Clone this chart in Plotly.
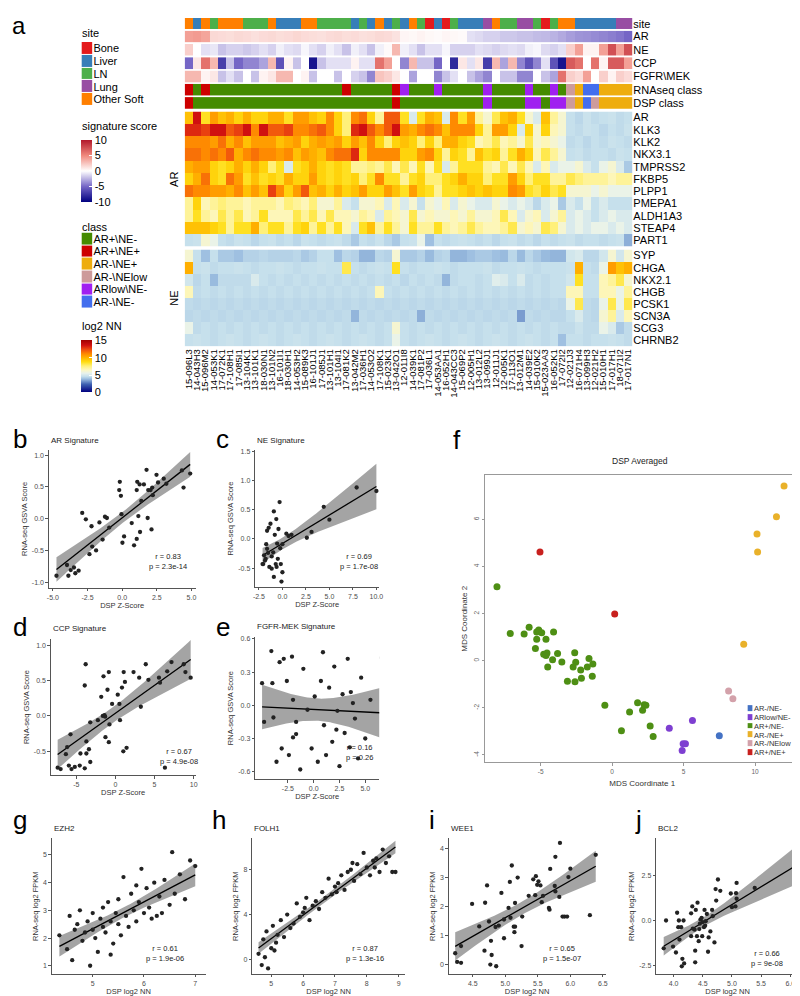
import numpy as np
import plotly.graph_objects as go

W, H = 800, 996
FONT = "Arial, Liberation Sans, sans-serif"

# ---------------- panel a : data ----------------
samples = ["15-096L3", "14-043H3", "15-096M2", "14-053K1", "17-072K1", "17-108H1", "17-085I1", "13-104K1", "13-101K1", "18-030N1",
           "13-101N2", "16-101I1", "18-030H1", "14-053H2", "15-089K3", "16-101J1", "17-085J1", "13-101H1", "13-104I1", "17-081K2",
           "13-042M2", "17-036H1", "14-053O2", "17-108K1", "15-023K1", "13-042O1", "12-011I8", "14-039K1", "17-081P2", "17-036L1",
           "14-053AA1", "16-052H1", "14-043CC3", "15-069P2", "12-005H1", "13-012L2", "13-099J1", "12-011J1", "12-005K1", "17-113O1",
           "13-012M1", "14-039E2", "15-010K2", "15-023AA3", "16-052K1", "17-072I2", "12-021J3", "16-071H4", "13-099H3", "12-021H2",
           "15-010H1", "17-017H1", "18-071I2", "17-017N1"]

site_names = ["Bone", "Liver", "LN", "Lung", "Other Soft"]
site_colors = ["#E41A1C", "#377EB8", "#4DAF4A", "#984EA3", "#FF7F00"]
site_codes = [4, 1, 4, 2, 4, 4, 4, 2, 2, 2,
              4, 1, 1, 1, 4, 4, 2, 2, 2, 2,
              1, 2, 1, 4, 1, 2, 1, 4, 2, 0,
              1, 0, 2, 1, 1, 1, 3, 4, 2, 2,
              3, 3, 2, 0, 2, 4, 4, 1, 1, 1,
              1, 1, 3, 3]

class_names = ["AR+\\NE-", "AR+\\NE+", "AR-\\NE+", "AR-\\NElow", "ARlow\\NE-", "AR-\\NE-"]
class_colors = ["#458B00", "#CD0000", "#EEAD0E", "#CD9B9B", "#A020F0", "#436EEE"]
rnaseq_class = [1, 0, 1, 0, 0, 0, 0, 0, 0, 0,
                0, 0, 0, 0, 0, 0, 0, 0, 0, 1,
                0, 0, 0, 0, 0, 1, 4, 0, 0, 0,
                4, 0, 0, 0, 0, 0, 4, 0, 0, 0,
                0, 4, 0, 0, 4, 0, 3, 2, 5, 5,
                2, 2, 2, 2]
dsp_class = [1, 0, 0, 0, 0, 0, 0, 0, 0, 0,
             0, 0, 0, 0, 0, 0, 0, 0, 0, 0,
             0, 0, 0, 0, 0, 1, 0, 0, 0, 0,
             0, 0, 0, 0, 0, 0, 4, 0, 0, 0,
             0, 4, 4, 0, 4, 4, 3, 2, 5, 3,
             2, 2, 2, 2]

sig_ar = [4.0, 4.2, 3.8, 1.6, 1.5, 1.4, 1.6, 1.5, 1.3, 1.5,
          1.6, 1.4, 1.5, 1.7, 1.5, 1.4, 1.3, 1.5, 1.6, 1.4,
          1.5, 1.3, 1.4, 1.6, 1.5, 1.2, 0.4, 0.3, 0.5, 0.3,
          0.2, 0.4, 0.3, 0.2, -1.0, -1.2, -1.5, -1.5, -1.8, -1.8,
          -2.0, -2.0, -2.2, -2.3, -2.5, -2.8, -3.2, -3.5, -3.6, -3.8,
          -4.0, -4.2, -4.5, -5.0]
sig_ne = [2.0, 0.0, -1.0, -0.8, -2.0, -1.5, -1.5, -1.8, -1.5, -1.0,
          -1.5, -0.5, -1.0, -1.2, -0.3, -1.0, -1.5, -0.5, -1.0, -2.0,
          -0.5, -1.0, -2.0, -0.5, 0.2, 3.0, -0.5, -1.0, -2.0, -1.0,
          -1.0, -0.3, -1.5, -1.5, -1.5, -1.0, -1.2, -1.5, -1.2, -1.0,
          -1.2, -0.5, -0.3, -1.2, -1.5, -1.0, 2.0, 4.0, 0.5, 0.5,
          4.0, 7.5, 4.0, 7.5]
sig_ccp = [-5, 1, 6, 3, -7, -2, -5, -4, -4, -3,
           3, -6, 0.5, -2, 0, -9, -2, -1, -1, -1,
           0.5, -1, -1, 6, 4, 0, -4, 3, -2, -2,
           -5, 0, -8, 1, -1, 1, -7, 3, -3, 3,
           -4, -6, -4, -1, -6, -9, 7, 6, 0, 6,
           0.5, 7, 7, 4]
sig_fgfr = [3, 3, 0.5, 1, -2, -1, -2, 0, -2, 0.5,
            1, 3, 3, 0, 0.5, -2, 0, 0, -2, 0,
            -1.5, -2, -4, 2.5, 2, 1, 0, -3, 0, 0,
            -4, -2, -1, 0, -2, -3, -4, 0, -2, -2,
            -4, -4, 0, -2, -3, 6, 2, 1.5, 4, 0,
            2, 0.5, 2, 1.5]
sig_rows = ["AR", "NE", "CCP", "FGFR\\MEK"]
sig_ticks = [10, 5, 0, -5, -10]

ar_genes = ["AR", "KLK3", "KLK2", "NKX3.1", "TMPRSS2", "FKBP5", "PLPP1", "PMEPA1", "ALDH1A3", "STEAP4", "PART1"]
ar_block = [
    [9.5, 13.5, 8.5, 10.5, 9.5, 10, 9, 10, 9, 9, 10, 10, 8.5, 10.5, 10.5, 9.5, 9, 11, 9, 7.5,
     11, 11.5, 9, 7, 12, 12, 8.5, 5, 8.5, 10, 9.5, 5, 11, 8.5, 10.5, 7, 6, 8, 9.5, 10,
     8.5, 6, 5, 9.5, 7, 6, 4.5, 4.3, 4.6, 4.4, 4.5, 4.6, 4.4, 4.5],
    [13, 13, 12.5, 13.5, 13.5, 12, 12.5, 13.5, 11, 13.5, 12, 12, 12.5, 11, 11, 11.5, 12, 11, 9, 7.5,
     13, 13.5, 12, 11, 12, 13.5, 10.5, 10, 11, 11.5, 11, 9.5, 11, 11, 11, 9, 7, 10.5, 10.5, 9,
     5, 9, 6, 9, 6.5, 6, 4.5, 4.4, 4.6, 4.5, 4.3, 4.5, 4.4, 4.6],
    [11, 11, 11, 10.5, 11.5, 10, 11, 9.5, 10.5, 10.5, 10.5, 9.5, 10, 10.5, 9, 10, 10.5, 10, 10.5, 9,
     10.5, 9.5, 11, 9, 7.5, 9, 9.5, 9, 7.5, 9, 7.5, 10, 10, 9, 8.5, 6.5, 7, 8, 6.5, 7,
     6, 8, 6, 6.5, 6, 5.5, 4.4, 4.5, 4.3, 4.5, 4.4, 4.6, 4.5, 4.4],
    [11.5, 11.5, 11, 11.5, 11, 12, 10, 11, 11.5, 11, 11, 10.5, 11, 9.5, 10.5, 10, 9.5, 11, 11.5, 11.5,
     13, 9, 11, 11, 11, 11, 9, 9, 10.5, 11, 9, 7, 9, 8.5, 7, 9.5, 8.5, 9, 7, 8.5,
     10, 9, 6.5, 8, 7, 6, 4.5, 4.6, 4.4, 4.5, 4.5, 4.4, 4.6, 4.5],
    [10, 10.5, 10.5, 9, 8.5, 9, 10, 9, 10, 9, 7.5, 8.5, 5, 8.5, 9, 10, 9, 8.5, 9, 8.5,
     7, 7, 7.5, 7, 8, 6.5, 8, 6.5, 8.5, 6.5, 8.5, 5, 7, 8.5, 8.5, 8.5, 7, 6.5, 8, 6.5,
     8, 6.5, 5, 6.5, 5, 5.5, 5.5, 6, 5, 4.5, 5.5, 6, 5, 4],
    [9, 10, 11.5, 9, 8.5, 11.5, 10.5, 8.5, 9.5, 8.5, 9, 8.5, 10, 9, 9, 10.5, 9, 8.5, 9, 8.5,
     9, 7.5, 8.5, 11, 8.5, 8.5, 7, 8.5, 9, 7.5, 7.5, 8.5, 9, 10, 9, 9, 7.5, 8.5, 8.5, 10.5,
     9, 7.5, 8.5, 8.5, 7, 7, 8, 7.5, 7, 7, 7, 6.5, 7, 7],
    [11.5, 11, 11, 10.5, 10.5, 10, 11, 9.5, 10.5, 9.5, 12.5, 11, 9, 10.5, 12, 9.5, 10, 9, 10, 9,
     9.5, 10.5, 9, 9, 10.5, 9.5, 8.5, 10.5, 9, 8.5, 7, 8.5, 8.5, 9, 9.5, 9, 9.5, 9, 9, 11,
     10.5, 8.5, 8, 9, 8, 8.5, 6, 6, 6, 5.5, 6, 5.5, 5.5, 5.5],
    [7, 9, 6.5, 7, 7.5, 7, 7, 6.5, 7, 7, 7, 6.5, 7.5, 7, 6.5, 7.5, 6, 6, 7, 5,
     4.5, 6, 6, 6.5, 5, 6.5, 5, 6, 4.5, 6, 5.5, 6.5, 5, 6, 5.5, 5, 5, 6, 5.5, 5,
     5.5, 5, 4.3, 5, 5.5, 4, 5, 4.5, 5.5, 4.5, 5, 4.5, 4.5, 4.5],
    [7, 8.5, 7, 6.5, 8, 7, 8, 6.5, 7, 8.5, 6.5, 6.5, 6.5, 8, 7, 8, 6.5, 8, 6.5, 6.5,
     6, 7, 6.5, 5, 7, 6.5, 6, 8, 6, 6.5, 6, 6, 6.5, 6, 7, 6, 6, 6.5, 8, 6.5,
     5, 6, 6.5, 5, 6, 7, 5, 5.5, 5, 4.5, 5, 5.5, 5, 5],
    [9.5, 9.5, 9.5, 9, 8.5, 7, 8.5, 8.5, 10, 7.5, 8.5, 8.5, 7, 8.5, 9, 7, 8.5, 7, 8.5, 6.5,
     5, 8.5, 9.5, 7, 8.5, 7, 6, 8.5, 7, 7, 8.5, 7, 6.5, 7, 8, 7, 6.5, 6.5, 7, 8,
     6, 6.5, 6, 8, 7.5, 6, 5, 5.5, 5, 5.5, 5.5, 5, 5.5, 5],
    [4.5, 4.6, 6, 5.5, 4.5, 4.4, 4.6, 4.5, 4.3, 4.5, 4.6, 4.4, 4.5, 4.3, 4.6, 4.5, 4.4, 4.5, 4.6, 4.4,
     4, 4.5, 4.4, 4.6, 4.3, 4, 4.5, 4.6, 5.5, 3.8, 4.5, 4.4, 4.5, 4.6, 4.5, 4.4, 4.5, 4.3, 4.5, 4.6,
     4.4, 4.5, 4.3, 4.5, 4.4, 4.5, 4.6, 4.4, 4.5, 4.5, 4.4, 4.5, 4.6, 3.5],
]
ne_genes = ["SYP", "CHGA", "NKX2.1", "CHGB", "PCSK1", "SCN3A", "SCG3", "CHRNB2"]
ne_block = [
    [6, 4.5, 3.8, 4.5, 4, 4, 3.8, 4.2, 4.2, 4.3, 4.2, 4.2, 4.2, 4.3, 4, 4.2, 4.5, 4.5, 3.8, 4.3,
     4.2, 3.6, 3.6, 4.3, 4.2, 6, 4, 4, 4.2, 3.7, 4.2, 4.3, 3.6, 3.6, 3.8, 4, 4, 3.8, 3.7, 4.3,
     3.7, 4.3, 4, 3.7, 3.6, 3.6, 4.8, 5, 4.3, 4.3, 4.8, 6, 4.8, 6],
    [10, 4.5, 4.6, 4.4, 4.5, 4.5, 4.6, 4.5, 4.4, 4.5, 4.5, 4.6, 4.5, 4.4, 4.5, 4.5, 4.6, 4.5, 4.5, 8,
     4.5, 4.4, 4.5, 4.6, 4.5, 8.5, 4.5, 4.4, 4.5, 4.5, 4.6, 4.5, 4.4, 4.5, 4.5, 4.5, 4.6, 4.4, 4.5, 4.5,
     4.6, 4.5, 4.4, 4.5, 4.5, 4.5, 4.6, 10, 4.5, 4.4, 5.5, 10.5, 9.5, 10],
    [4.8, 4.3, 4.5, 3.7, 4.4, 4.4, 4.4, 4.4, 5, 4.5, 4.4, 4.5, 4.4, 4.5, 4.4, 4.5, 4.4, 4.5, 4.4, 4.5,
     4.4, 4.5, 4.4, 4.5, 4.4, 4.5, 4.3, 4.5, 4.4, 4.5, 4.4, 3.6, 4.4, 4.5, 4.5, 4.4, 4.5, 5.2, 5, 4.5,
     5, 4.4, 4.5, 4.4, 4.5, 4.5, 4.8, 8.5, 4.5, 4.5, 6.5, 7, 8, 6],
    [6.5, 4.4, 4.5, 4.4, 4.5, 4.4, 4.5, 4.4, 4.5, 4.4, 4.5, 4.4, 4.5, 4.4, 4.5, 4.4, 4.5, 4.4, 4.5, 4.4,
     4.5, 4.4, 4.5, 6.5, 4.5, 4.4, 4.5, 4.4, 4.5, 4.4, 4.5, 4.4, 4.5, 4.4, 4.5, 4.4, 4.5, 4.4, 4.5, 4.4,
     4.5, 4.4, 4.5, 4.4, 4.5, 4.5, 6.5, 6.5, 4.5, 4.5, 6.5, 6.5, 5.5, 7],
    [4.4, 4.3, 4.4, 4.3, 4.4, 4.3, 4.4, 4.3, 4.4, 4.3, 4.4, 4.3, 4.4, 4.3, 4.4, 4.3, 4.4, 4.3, 4.4, 4.3,
     4.4, 4.3, 4.4, 4.3, 4.4, 4.3, 4.4, 4.3, 4.4, 4.3, 4.4, 4.3, 4.4, 4.3, 4.4, 4.3, 4.4, 4.3, 4.4, 4.3,
     4.4, 4.3, 4.4, 4.3, 4.4, 4.3, 5.5, 8, 4.4, 4.3, 5.5, 8, 5.5, 8],
    [4.3, 4.4, 4.3, 4.4, 4.3, 4.4, 4.3, 4.4, 4.3, 4.4, 4.3, 4.4, 4.3, 4.4, 4.3, 4.4, 4.3, 4.4, 4.3, 4.4,
     3.6, 4.4, 4.3, 4.4, 4.3, 4.4, 4.3, 4.4, 3.5, 4.4, 4.3, 4.4, 4.3, 4.4, 4.3, 4.4, 4.3, 4.4, 4.3, 4.4,
     3.2, 4.4, 4.3, 4.4, 4.3, 4.3, 4.5, 5, 4.4, 4.3, 6, 7, 5, 6.5],
    [5.5, 4.4, 4.5, 4.4, 4.5, 4.4, 4.5, 4.4, 4.5, 4.4, 4.5, 4.4, 4.5, 4.4, 4.5, 4.4, 4.5, 4.4, 4.5, 4.4,
     4.5, 4.4, 4.5, 4.4, 4.5, 6, 4.5, 4.4, 4.5, 4.4, 4.5, 4.4, 4.5, 4.4, 4.5, 4.4, 4.5, 4.4, 4.5, 4.4,
     4.5, 4.4, 4.5, 4.4, 4.5, 4.4, 4.4, 4.6, 4.4, 4.4, 5.5, 5, 4.0, 4.4],
    [4.5, 4.6, 4.5, 4.4, 4.5, 4.6, 4.5, 4.4, 4.5, 4.6, 4.5, 4.4, 4.5, 4.6, 4.5, 4.4, 4.5, 4.6, 4.5, 4.4,
     4.5, 4.6, 4.5, 4.4, 4.5, 5.5, 4.5, 4.4, 4.5, 4.6, 4.5, 4.4, 4.5, 4.6, 4.5, 4.4, 4.5, 4.6, 4.5, 4.4,
     4.5, 4.6, 4.5, 4.4, 4.5, 3.8, 4.5, 4.5, 4.4, 4.5, 4.5, 4.6, 4.5, 4.4],
]
nn_ticks = [15, 10, 5, 0]

# ---------------- panels b-e ----------------
b_x = [-4.74, -3.98, -3.88, -3.71, -3.48, -3.38, -3.14, -2.88, -2.62, -2.36, -2.21, -2.16, -1.88, -1.64, -1.41, -1.24,
       -1.10, -0.93, -0.21, -0.17, -0.09, -0.05, 0.02, 0.14, 0.69, 0.86, 1.05, 1.05, 1.09, 1.17, 1.29, 1.26, 1.38,
       1.57, 1.76, 1.84, 1.88, 2.05, 2.12, 2.17, 2.21, 2.48, 2.59, 3.00, 3.19, 4.31, 4.43, 4.91]
b_y = [-0.90, -0.73, -0.90, -0.81, -0.77, -0.86, -0.82, 0.09, -0.01, -0.56, -0.12, -0.44, -0.50, -0.06, -0.33, 0.03,
       0.01, -0.14, 0.45, 0.58, 0.36, 0.07, -0.38, -0.28, -0.07, -0.42, -0.32, 0.45, 0.58, 0.04, -0.21, 0.54, 0.28,
       0.54, 0.77, 0.01, 0.45, 0.45, -0.17, 0.49, 0.37, 0.69, 0.57, 0.63, 0.55, 0.76, 0.49, 0.71]
c_x = [-2.04, -1.78, -1.72, -1.63, -1.46, -1.27, -1.14, -0.98, -0.91, -0.81, -0.71, -0.65, -0.56, -0.49, -0.42, -0.30,
       -0.23, -0.17, -0.10, 0.00, -0.62, -0.91, -1.14, -1.39, -1.53, -1.63, -1.95, -1.85, -2.11, 0.00, 0.42, 0.65,
       0.97, 2.6, 3.1, 4.4, 5.0, 7.9, 10.0]
c_y = [-0.43, -0.34, -0.09, 0.14, 0.19, 0.26, -0.30, -0.23, 0.47, 0.07, -0.43, 0.34, -0.08, -0.34, 0.17, 0.63,
       -0.16, -0.43, -0.73, -0.57, -0.48, -0.65, -0.51, -0.48, -0.24, -0.17, -0.28, -0.37, -0.43, -0.09, 0.09, 0.05,
       0.07, 0.02, 0.12, 0.55, 0.33, 0.88, 0.82]
d_x = [-7.38, -7.00, -6.33, -6.16, -5.74, -5.95, -5.61, -5.19, -4.56, -4.47, -3.92, -3.80, -3.71, -3.71, -3.92, -3.38,
       -3.21, -3.21, -2.24, -1.81, -1.61, -1.52, -1.39, -1.31, -1.27, -1.01, -0.84, -0.84, -0.76, -0.42, 0.30, 0.51,
       0.59, 0.84, 1.06, 1.22, 1.01, 1.43, 2.32, 3.04, 3.25, 3.88, 4.22, 5.57, 5.70, 6.33, 6.62, 7.17, 8.73, 8.95, 9.62]
d_y = [-0.73, -0.75, -0.54, -0.44, -0.26, -0.70, -0.75, -0.72, -0.70, -0.53, 0.43, 0.73, -0.36, -0.53, -0.74, -0.47,
       -0.65, -0.09, -0.06, 0.27, 0.00, 0.56, 0.01, -0.01, -0.30, 0.37, 0.62, -0.37, -0.12, 0.17, 0.30, 0.17,
       -0.06, 0.40, 0.62, 0.48, -0.50, -0.45, 0.62, 0.54, 0.13, 0.73, 0.51, 0.54, 0.47, -0.73, 0.63, 0.76, 0.73, 0.62, 0.54]
e_x = [-5.0, -4.1, -4.0, -4.8, -3.9, -3.3, -2.9, -2.6, -2.1, -3.1, -3.6, -2.4, -2.0, -2.0, -1.7, -1.7,
       -1.0, -0.6, -0.2, 0.1, 0.4, 0.7, 1.0, 1.2, 1.5, 1.8, 2.0, 2.3, 2.5, 2.8, 3.0, 3.3, 3.5, 3.8,
       4.0, 4.3, 4.6, 5.0, 5.5, 6.6, -1.3, 0.9, 2.2, 3.6]
e_y = [0.20, 0.49, 0.20, -0.15, -0.11, 0.39, 0.42, 0.22, 0.44, -0.39, -0.51, -0.45, 0.05, -0.29, -0.26, -0.15,
       0.33, -0.04, -0.39, 0.08, -0.51, 0.22, -0.18, -0.45, 0.16, -0.33, 0.35, -0.05, -0.55, 0.10, -0.25, 0.42,
       -0.38, 0.02, -0.12, -0.48, 0.25, -0.30, 0.05, 0.43, -0.58, 0.48, -0.22, 0.12]

# ---------------- panel f ----------------
f_classes = ["AR-/NE-", "ARlow/NE-", "AR+/NE-", "AR-/NE+", "AR-/NElow", "AR+/NE+"]
f_colors = ["#4472C4", "#7E3FD1", "#4E8F14", "#E9B12A", "#D3A1AA", "#C8201E"]
f_x = [
    [7.50],
    [5.62, 4.00, 4.97, 5.13, 4.90],
    [-8.06, -7.13, -6.16, -5.81, -5.28, -5.14, -4.93, -5.28, -4.63, -4.10, -5.37, -4.79, -4.56, -4.63, -3.82,
     -4.51, -4.17, -3.52, -2.62, -2.55, -2.73, -2.20, -1.74, -1.62, -1.35, -1.39, -2.15, -2.60, -3.13, -0.51,
     1.78, 1.22, 2.13, 2.24, 2.36, 2.66, 2.87, 0.65],
    [12.03, 11.50, 10.14, 10.18, 9.21],
    [8.15, 8.45],
    [-5.05, 0.18],
]
f_y = [
    [-3.19],
    [-2.54, -2.87, -3.52, -3.52, -3.81],
    [3.14, 1.16, 1.13, 1.42, 1.22, 1.30, 1.19, 0.91, 0.91, 1.22, 0.52, 0.27, 0.33, 0.22, 0.31,
     -0.27, 0.04, -0.05, 0.34, -0.07, -0.27, -0.39, -0.27, 0.09, -0.14, -0.66, -0.74, -0.89, -0.87, -1.89,
     -1.78, -2.18, -2.10, -1.87, -1.89, -2.77, -3.22, -2.97],
    [7.42, 6.11, 5.38, 4.61, 0.70],
    [-1.29, -1.61],
    [4.61, 1.98],
]

# ---------------- panels g-j ----------------
g_x = [4.35, 4.5, 4.55, 4.6, 4.7, 4.75, 4.8, 4.85, 4.9, 4.95, 5.0, 5.0, 5.05, 5.1, 5.15, 5.2, 5.2, 5.25, 5.3, 5.35,
       5.4, 5.45, 5.5, 5.5, 5.55, 5.6, 5.65, 5.7, 5.75, 5.8, 5.85, 5.9, 5.95, 6.0, 6.05, 6.1, 6.15, 6.2, 6.3, 6.35,
       6.4, 6.5, 6.55, 6.6, 6.7, 6.8, 6.9, 7.0, 4.65, 5.35, 5.85, 6.25]
g_y = [2.1, 1.6, 2.8, 1.2, 2.5, 3.0, 1.9, 2.2, 2.6, 1.0, 2.3, 2.9, 2.0, 1.5, 2.7, 3.1, 2.4, 2.2, 3.3, 2.6,
       1.8, 2.9, 2.5, 3.4, 2.1, 4.2, 2.8, 2.4, 3.6, 3.0, 2.6, 3.3, 4.5, 2.9, 3.8, 3.1, 2.7, 4.0, 3.5, 2.9,
       4.1, 3.2, 5.1, 3.6, 4.3, 3.4, 4.8, 4.6, 2.3, 1.4, 3.9, 2.8]
h_x = [4.6, 4.7, 4.75, 4.8, 4.85, 4.9, 5.0, 5.05, 5.1, 5.2, 5.3, 5.4, 5.5, 5.6, 5.7, 5.8, 5.9, 6.0, 6.1, 6.2,
       6.3, 6.4, 6.5, 6.6, 6.7, 6.8, 6.9, 7.0, 7.1, 7.2, 7.3, 7.4, 7.5, 7.6, 7.7, 7.8, 7.9, 8.0, 8.1, 8.2,
       8.3, 8.4, 8.5, 8.6, 8.7, 8.8, 8.9, 5.15, 6.05, 7.05, 7.55, 8.25]
h_y = [0.5, -0.5, 1.8, 0.2, 2.5, -0.8, 1.0, 3.0, 0.8, 2.2, 3.5, 2.0, 4.0, 2.8, 3.2, 5.0, 3.8, 4.2, 5.5, 3.5,
       4.8, 5.2, 4.5, 6.0, 5.5, 7.2, 5.8, 6.5, 6.8, 7.5, 6.2, 7.8, 8.0, 7.0, 8.5, 7.6, 9.5, 8.2, 7.5, 8.8,
       9.0, 7.8, 9.8, 8.6, 9.2, 7.8, 7.8, 1.5, 4.6, 6.0, 8.6, 8.2]
i_x = [4.23, 4.26, 4.32, 4.32, 4.49, 4.60, 4.69, 4.72, 4.68, 4.75, 4.77, 4.78, 4.79, 4.85, 4.86, 4.90, 4.94, 4.98,
       4.98, 5.05, 5.07, 5.08, 5.10, 5.13, 5.15, 5.14, 5.15, 5.19, 5.25, 5.26, 5.36, 5.43, 5.46, 5.47, 5.49, 5.51,
       5.54, 5.56, 5.58, 5.67, 5.68, 5.69, 5.76, 5.77, 5.77, 5.83, 5.84, 5.88, 5.91, 5.95, 5.97, 6.00, 6.30, 6.39]
i_y = [0.38, 0.08, 0.05, 0.63, 2.09, 1.31, 2.13, 2.73, 0.47, 1.48, -0.01, 0.81, 0.32, 1.29, -0.07, 1.34, 2.47, 1.55,
       0.90, 1.95, 2.85, 1.61, 3.42, 1.30, 1.30, 1.11, 2.12, 3.00, 0.63, 1.65, 2.37, 2.94, 2.39, 3.05, 2.75, 2.87,
       2.73, 2.15, 2.37, 1.95, 1.89, 3.30, 2.71, 3.72, 2.52, 2.33, 4.20, 1.65, 1.65, 1.65, 3.02, 3.31, 1.70, 3.79]
j_x = [3.83, 3.87, 3.99, 4.04, 4.06, 4.08, 4.09, 4.10, 4.13, 4.15, 4.17, 4.18, 4.14, 4.32, 4.30, 4.30, 4.33, 4.36,
       4.37, 4.37, 4.38, 4.40, 4.41, 4.43, 4.44, 4.45, 4.46, 4.48, 4.49, 4.50, 4.52, 4.53, 4.54, 4.55, 4.57, 4.59,
       4.60, 4.63, 4.66, 4.67, 4.70, 4.72, 4.73, 4.76, 4.80, 4.98, 5.00, 5.06, 5.07, 5.08, 5.08, 5.39, 6.10]
j_y = [-1.57, -0.02, -1.47, -1.80, 0.41, -0.39, -0.02, -1.08, -0.39, -2.15, -0.02, -2.41, -2.57, 0.76, 0.38, -0.89,
       -0.47, -0.53, -1.70, -2.35, 0.57, -0.89, 0.97, -1.17, -0.50, -0.20, 0.03, 0.13, -0.89, -0.11, -0.39, 0.57,
       -0.31, -0.06, 0.34, -1.76, -0.96, -0.63, 0.57, 0.22, -1.24, 1.73, 1.09, 2.26, 1.63, 1.48, 0.72, 0.76, 1.50,
       1.19, 2.07, 1.79, 1.95]

for row in [site_codes, rnaseq_class, dsp_class, sig_ar, sig_ne, sig_ccp, sig_fgfr] + ar_block + ne_block:
    assert len(row) == len(samples), len(row)


def fx(p):
    return p / W


def fy(p):
    return 1 - p / H


def dom_x(a, b):
    return [a / W, b / W]


def dom_y(top, bottom):
    return [1 - bottom / H, 1 - top / H]


def cat_scale(colors):
    n = len(colors)
    cs = []
    for i, c in enumerate(colors):
        cs += [[i / n, c], [(i + 1) / n, c]]
    return cs


sig_scale = [[0, "#000080"], [0.25, "#7566C6"], [0.5, "#FFFFFF"], [0.75, "#F0887C"], [1, "#B2182B"]]
nn_scale = [[0.0, "#00007F"], [0.15, "#3F62B2"], [0.25, "#9CBEE0"], [0.30, "#C6E0EC"], [0.36, "#E8F2EC"],
            [0.42, "#FCF7C4"], [0.5, "#FFF07A"], [0.58, "#FFDD10"], [0.66, "#FFB300"], [0.73, "#FF8C00"],
            [0.82, "#EE4A10"], [0.9, "#D01010"], [1.0, "#A00000"]]

fig = go.Figure()
lay = dict(width=W, height=H, margin=dict(l=0, r=0, t=0, b=0), paper_bgcolor="white",
           plot_bgcolor="rgba(0,0,0,0)", showlegend=False,
           font=dict(family=FONT, color="black", size=11))
ann = []


def note(px, py, text, size, color="black", xanchor="left", yanchor="middle", **kw):
    ann.append(dict(x=fx(px), y=fy(py), xref="paper", yref="paper", text=text, xanchor=xanchor,
                    yanchor=yanchor, showarrow=False, font=dict(size=size, color=color, family=FONT), **kw))


# heatmap x axis (shared by all rows)
lay["xaxis"] = dict(domain=dom_x(176, 627), anchor="y9", type="category", tickmode="array",
                    tickvals=samples, ticktext=samples, tickangle=-90, tickfont=dict(size=9.5),
                    showgrid=False, zeroline=False, showline=False, ticks="", fixedrange=True)


def row_axis(name, top, bottom, cats):
    lay[name] = dict(domain=dom_y(top, bottom), anchor="x", side="right", showgrid=False, zeroline=False,
                     ticks="", tickfont=dict(size=11), showline=False, fixedrange=True, type="category",
                     tickmode="array", tickvals=cats, ticktext=cats, autorange="reversed")


row_axis("yaxis", 8, 19.5, ["site"])
row_axis("yaxis2", 20.7, 32.3, [sig_rows[0]])
row_axis("yaxis3", 34, 45.7, [sig_rows[1]])
row_axis("yaxis4", 47.3, 59.3, [sig_rows[2]])
row_axis("yaxis5", 60.7, 72.7, [sig_rows[3]])
row_axis("yaxis6", 74, 85.7, ["RNAseq class"])
row_axis("yaxis7", 87.3, 99, ["DSP class"])
row_axis("yaxis8", 101.7, 237, ar_genes)
row_axis("yaxis9", 240, 337, ne_genes)

n_site = len(site_names)
n_cls = len(class_names)
fig.add_trace(go.Heatmap(x=samples, y=["site"], z=[site_codes], colorscale=cat_scale(site_colors),
                         zmin=-0.5, zmax=n_site - 0.5, showscale=False, xaxis="x", yaxis="y", hoverinfo="skip"))
sig_axes = ["y2", "y3", "y4", "y5"]
for k, (nm, vals) in enumerate(zip(sig_rows, [sig_ar, sig_ne, sig_ccp, sig_fgfr])):
    kw = dict(showscale=False)
    if k == 0:
        kw = dict(showscale=True, colorbar=dict(
            x=fx(72), xanchor="left", y=fy(130), yanchor="top", len=62 / H, lenmode="fraction",
            thickness=11, thicknessmode="pixels", xpad=0, ypad=0, outlinewidth=0,
            tickmode="array", tickvals=sig_ticks, ticktext=[str(v) for v in sig_ticks],
            ticks="inside", ticklen=3, tickcolor="white", tickfont=dict(size=11, family=FONT)))
    fig.add_trace(go.Heatmap(x=samples, y=[nm], z=[vals], colorscale=sig_scale, zmin=-10, zmax=10,
                             xaxis="x", yaxis=sig_axes[k], hoverinfo="skip", **kw))
for nm, vals, ya in [("RNAseq class", rnaseq_class, "y6"), ("DSP class", dsp_class, "y7")]:
    fig.add_trace(go.Heatmap(x=samples, y=[nm], z=[vals], colorscale=cat_scale(class_colors),
                             zmin=-0.5, zmax=n_cls - 0.5, showscale=False, xaxis="x", yaxis=ya, hoverinfo="skip"))

fig.add_trace(go.Heatmap(x=samples, y=ar_genes, z=ar_block, colorscale=nn_scale, zmin=0, zmax=15,
                         xaxis="x", yaxis="y8", hoverinfo="skip", showscale=True,
                         colorbar=dict(x=fx(72), xanchor="left", y=fy(331), yanchor="top", len=52 / H,
                                       lenmode="fraction", thickness=11, thicknessmode="pixels", xpad=0, ypad=0,
                                       outlinewidth=0, tickmode="array", tickvals=nn_ticks,
                                       ticktext=[str(v) for v in nn_ticks], ticks="inside", ticklen=3,
                                       tickcolor="white", tickfont=dict(size=11, family=FONT))))
fig.add_trace(go.Heatmap(x=samples, y=ne_genes, z=ne_block, colorscale=nn_scale, zmin=0, zmax=15,
                         xaxis="x", yaxis="y9", hoverinfo="skip", showscale=False))

note(165, 169.5, "AR", 11, xanchor="center", textangle=-90)
note(165, 288.5, "NE", 11, xanchor="center", textangle=-90)


# discrete legends drawn as one-column heatmaps
def legend_block(xn, yn, x0, x1, top, bottom, names, colors, gap, fsize, fcolor="black"):
    lay["xaxis" + xn[1:]] = dict(domain=dom_x(x0, x1), anchor=yn, visible=False, fixedrange=True)
    lay["yaxis" + yn[1:]] = dict(domain=dom_y(top, bottom), anchor=xn, side="right", autorange="reversed",
                                 showgrid=False, zeroline=False, ticks="", showline=False, type="category",
                                 tickmode="array", tickvals=names, ticktext=names,
                                 tickfont=dict(size=fsize, color=fcolor), fixedrange=True)
    fig.add_trace(go.Heatmap(x=[0], y=names, z=[[i] for i in range(len(names))],
                             colorscale=cat_scale(colors), zmin=-0.5, zmax=len(names) - 0.5,
                             showscale=False, ygap=gap, xaxis=xn, yaxis=yn, hoverinfo="skip"))


legend_block("x2", "y10", 72, 83, 32, 96, site_names, site_colors, 1, 11)
legend_block("x3", "y11", 72, 83, 223, 299, class_names, class_colors, 1, 11)
legend_block("x4", "y12", 743, 748.5, 695.5, 748.5, f_classes, f_colors, 3, 7.5, "#333")

for txt, yy in [("site", 22.7), ("signature score", 116), ("class", 217), ("log2 NN", 317)]:
    note(71, yy, txt, 11)


def fmt_ticks(vals, nd):
    return [f"{v:.{nd}f}" for v in vals]


# scatter panels with linear fit and 95% band
def scatter_panel(k, xs, ys, xpx, ypx, xr, yr, xt, yt, nd_x, nd_y, title, xlab, ylab, stats, stats_px):
    xn, yn = f"x{k}", f"y{k + 10}"
    xs = np.asarray(xs, float)
    ys = np.asarray(ys, float)
    slope, icpt = np.polyfit(xs, ys, 1)
    n = len(xs)
    res = ys - (slope * xs + icpt)
    s = np.sqrt(np.sum(res ** 2) / (n - 2))
    gx = np.linspace(xs.min(), xs.max(), 80)
    se = s * np.sqrt(1 / n + (gx - xs.mean()) ** 2 / np.sum((xs - xs.mean()) ** 2))
    fit = slope * gx + icpt
    t = 2.01
    fig.add_trace(go.Scatter(x=np.concatenate([gx, gx[::-1]]), y=np.concatenate([fit + t * se, (fit - t * se)[::-1]]),
                             fill="toself", fillcolor="rgba(125,125,125,0.7)", line=dict(width=0),
                             mode="lines", xaxis=xn, yaxis=yn, hoverinfo="skip"))
    fig.add_trace(go.Scatter(x=gx, y=fit, mode="lines", line=dict(color="black", width=1.3),
                             xaxis=xn, yaxis=yn, hoverinfo="skip"))
    fig.add_trace(go.Scatter(x=xs, y=ys, mode="markers", marker=dict(size=4.3, color="#222"),
                             xaxis=xn, yaxis=yn))
    common = dict(showline=True, linecolor="#555", linewidth=0.8, ticks="outside", ticklen=2.5,
                  tickcolor="#555", tickfont=dict(size=7, color="#4d4d4d"), showgrid=False, zeroline=False,
                  fixedrange=True)
    lay["xaxis" + str(k)] = dict(domain=dom_x(*xpx), anchor=yn, range=xr, tickmode="array", tickvals=xt,
                                 ticktext=fmt_ticks(xt, nd_x),
                                 title=dict(text=xlab, font=dict(size=7.5, color="#333"), standoff=1), **common)
    lay["yaxis" + str(k + 10)] = dict(domain=dom_y(*ypx), anchor=xn, range=yr, tickmode="array", tickvals=yt,
                                      ticktext=fmt_ticks(yt, nd_y),
                                      title=dict(text=ylab, font=dict(size=7.5, color="#333"), standoff=3),
                                      **common)
    note(xpx[0], ypx[0] - 10, title, 8, "#222")
    note(stats_px[0], stats_px[1], stats, 7.5, "#222", xanchor="center", align="center")


gsva = "RNA-seq GSVA Score"
fpkm = "RNA-seq log2 FPKM"
scatter_panel(5, b_x, b_y, (39, 187), (441, 579), [-5.3, 5.3], [-1.09, 1.08], [-5, -2.5, 0, 2.5, 5],
              [-1, -0.5, 0, 0.5, 1], 1, 1, "AR Signature", "DSP Z-Score", gsva, "r = 0.83<br>p = 2.3e-14", (159, 553))
scatter_panel(6, c_x, c_y, (247, 372), (441, 578), [-2.9, 10.3], [-0.82, 1.52], [-2.5, 0, 2.5, 5, 7.5, 10],
              [-0.5, 0, 0.5, 1, 1.5], 1, 1, "NE Signature", "DSP Z-Score", gsva, "r = 0.69<br>p = 1.7e-08", (352, 553))
scatter_panel(7, d_x, d_y, (41, 187), (630, 767), [-8.27, 10.25], [-0.84, 1.09], [-5, 0, 5, 10],
              [-0.5, 0, 0.5, 1], 0, 1, "CCP Signature", "DSP Z-Score", gsva, "r = 0.67<br>p = 4.9e-08", (170, 748))
scatter_panel(8, e_x, e_y, (247, 372), (628, 771), [-5.67, 6.35], [-0.67, 0.62], [-2.5, 0, 2.5, 5],
              [-0.6, -0.3, 0, 0.3, 0.6], 1, 1, "FGFR-MEK Signature", "DSP Z-Score", gsva,
              "r = 0.16<br>p = 0.26", (352, 744))
scatter_panel(10, g_x, g_y, (42, 197), (830, 966), [4.2, 7.2], [0.7, 5.6], [5, 6, 7], [1, 2, 3, 4, 5],
              0, 0, "EZH2", "DSP log2 NN", fpkm, "r = 0.61<br>p = 1.9e-06", (156, 945))
scatter_panel(11, h_x, h_y, (244, 398), (830, 966), [4.4, 9.2], [-1.3, 10.8], [5, 6, 7, 8, 9], [0, 4, 8],
              0, 0, "FOLH1", "DSP log2 NN", fpkm, "r = 0.87<br>p = 1.3e-16", (358, 945))
scatter_panel(12, i_x, i_y, (442, 600), (830, 966), [4.13, 6.54], [-0.34, 4.36], [4.5, 5, 5.5, 6, 6.5],
              [0, 1, 2, 3, 4], 1, 0, "WEE1", "DSP log2 NN", fpkm, "r = 0.65<br>p = 1.5e-07", (556, 945))
scatter_panel(13, j_x, j_y, (651, 795), (830, 966), [3.70, 6.15], [-3.0, 4.55], [4, 4.5, 5, 5.5, 6],
              [-2.5, 0, 2.5], 1, 1, "BCL2", "DSP log2 NN", fpkm, "r = 0.66<br>p = 9e-08", (763, 950))

# panel f : MDS
for nm, col, xs, ys in zip(f_classes, f_colors, f_x, f_y):
    fig.add_trace(go.Scatter(x=xs, y=ys, mode="markers", name=nm, marker=dict(size=7, color=col),
                             xaxis="x9", yaxis="y19"))
f_common = dict(showline=True, mirror=True, linecolor="#999", linewidth=1, ticks="outside", ticklen=2.5,
                tickcolor="#999", tickfont=dict(size=6.5, color="#666"), showgrid=False, zeroline=False,
                fixedrange=True)
f_xt = [-5, 0, 5, 10]
f_yt = [-4, -2, 0, 2, 4, 6]
lay["xaxis9"] = dict(domain=dom_x(479, 795), anchor="y19", range=[-8.87, 13.08], tickmode="array", tickvals=f_xt,
                     ticktext=fmt_ticks(f_xt, 0),
                     title=dict(text="MDS Coordinate 1", font=dict(size=8, color="#333"), standoff=6), **f_common)
lay["yaxis19"] = dict(domain=dom_y(466, 754), anchor="x9", range=[-4.32, 7.88], tickmode="array", tickvals=f_yt,
                      ticktext=fmt_ticks(f_yt, 0), tickangle=-90,
                      title=dict(text="MDS Coordinate 2", font=dict(size=8, color="#333"), standoff=4), **f_common)
note(635, 452, "DSP Averaged", 8.5, "#222", xanchor="center")

# panel letters
note(0, 0, "a", 24, yanchor="top")
for letter, lx, ly in [("b", 1, 441), ("c", 206, 441), ("d", 1, 629), ("e", 206, 629),
                       ("f", 444, 442), ("g", 1, 823), ("h", 202, 823), ("i", 420, 823), ("j", 628, 823)]:
    note(lx, ly + 6, letter, 26, yanchor="bottom")

lay["annotations"] = ann
fig.update_layout(**lay)
fig.write_html("out.html")
